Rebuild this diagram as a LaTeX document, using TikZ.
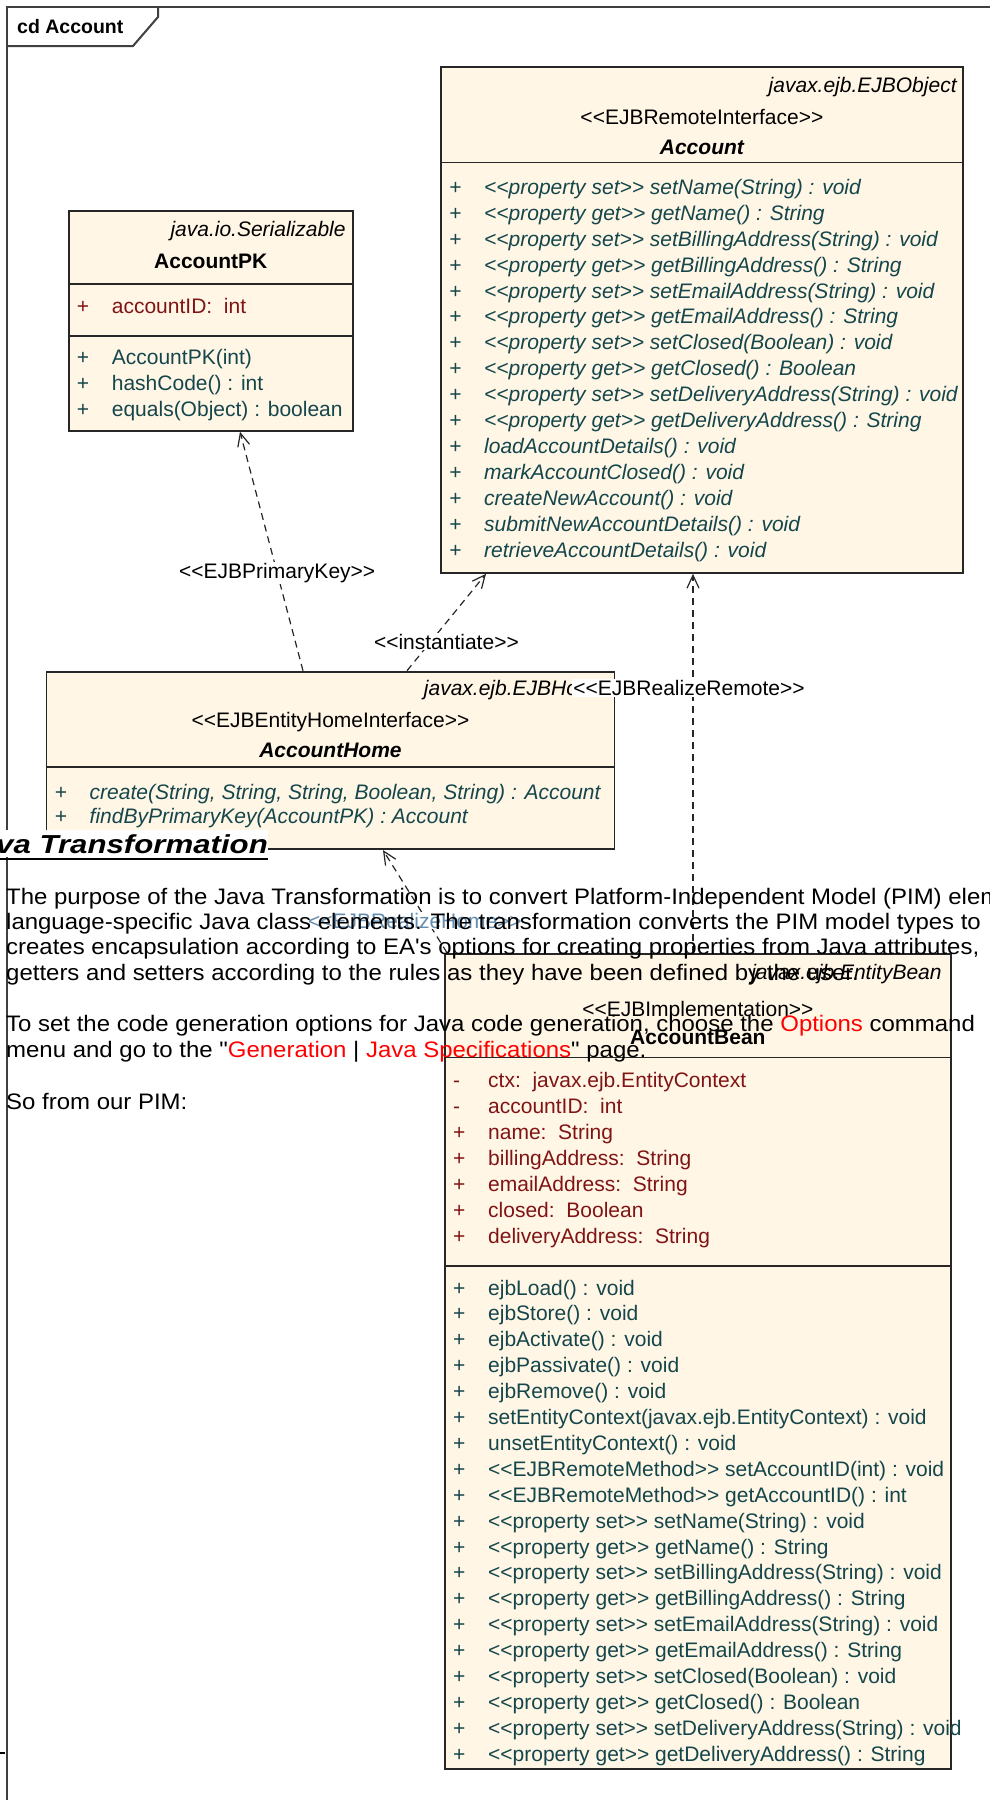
\documentclass[tikz,border=0pt]{standalone}
\usepackage{fontspec}
\setmainfont{Liberation Sans}[Ligatures=TeXOff]
\newfontfamily\htmlfont{Liberation Sans}[FakeStretch=1.07,Ligatures=TeXOff]
\newfontfamily\headfont{Liberation Sans}[FakeStretch=1.2,Ligatures=TeXOff]
\usetikzlibrary{arrows.meta,calc}

\definecolor{boxfill}{RGB}{255,246,230}
\definecolor{opcol}{RGB}{20,70,75}
\definecolor{attrcol}{RGB}{128,20,20}
\definecolor{realizeblue}{RGB}{100,140,175}
\newcommand{\umlsize}{\fontsize{21}{25.9}\selectfont}

\begin{document}
\begin{tikzpicture}[x=1pt, y=-1pt,
    umlbox/.style={rectangle, draw=black!85, line width=1.8pt, fill=boxfill,
      anchor=north west, inner sep=0pt},
    divline/.style={draw=black!85, line width=1.6pt},
    pkgtxt/.style={font=\umlsize\itshape, anchor=base east, inner sep=0pt},
    stereo/.style={font=\umlsize, anchor=base, inner sep=0pt},
    clsname/.style={font=\umlsize\bfseries, anchor=base, inner sep=0pt},
    attrs/.style={font=\umlsize, text=attrcol, anchor=north west, inner sep=0pt},
    ops/.style={font=\umlsize, text=opcol, anchor=north west, inner sep=0pt},
    dep/.style={draw=black!85, line width=1.2pt, dash pattern=on 7pt off 5pt,
      -{Straight Barb[length=13pt, width=12pt]}},
    deplbl/.style={font=\umlsize, fill=white, inner sep=1pt},
    htmltxt/.style={font=\htmlfont\fontsize{22.4}{25.4}\selectfont, anchor=base west, inner sep=0pt},
    framelin/.style={draw=black!75, line width=2pt}
  ]
  \useasboundingbox (0,0) rectangle (990,1800);
  \fill[white] (0,0) rectangle (990,1800);

  % --- diagram frame ---
  \draw[framelin] (1000,7) -- (7,7) -- (7,1810);
  \draw[framelin] (7,46) -- (133,46) -- (158,17) -- (158,7);
  \node[font=\fontsize{19.5}{22}\selectfont\bfseries, anchor=base west, inner sep=0pt] (cdlbl) at (17,33.5) {cd Account};
  \draw[line width=1.2pt] (0,1753) -- (5,1753);

  % --- Account (remote interface) ---
  \node[umlbox, minimum width=522pt, minimum height=506.3pt] (accbox) at (440,65.7) {};
  \node[pkgtxt] (accpkg) at ($(accbox.north east)+(-7,27)$) {javax.ejb.EJBObject};
  \node[stereo] (accst) at ($(accbox.north)+(0,59)$) {<<EJBRemoteInterface>>};
  \node[clsname, font=\umlsize\bfseries\itshape] (accname) at ($(accbox.north)+(0,89)$) {Account};
  \draw[divline] ($(accbox.north west)+(0,96.6)$) -- ($(accbox.north east)+(0,96.6)$);
  \node[ops, font=\umlsize\itshape] (accops) at ($(accbox.north west)+(9,110.4)$) {%
    \begin{tabular}{@{}p{35pt}@{}l@{}}
    + & <<property set>> setName(String) : void\\
    + & <<property get>> getName() : String\\
    + & <<property set>> setBillingAddress(String) : void\\
    + & <<property get>> getBillingAddress() : String\\
    + & <<property set>> setEmailAddress(String) : void\\
    + & <<property get>> getEmailAddress() : String\\
    + & <<property set>> setClosed(Boolean) : void\\
    + & <<property get>> getClosed() : Boolean\\
    + & <<property set>> setDeliveryAddress(String) : void\\
    + & <<property get>> getDeliveryAddress() : String\\
    + & loadAccountDetails() : void\\
    + & markAccountClosed() : void\\
    + & createNewAccount() : void\\
    + & submitNewAccountDetails() : void\\
    + & retrieveAccountDetails() : void
    \end{tabular}};

  % --- AccountPK ---
  \node[umlbox, minimum width=284.3pt, minimum height=220pt] (pkbox) at (67.7,210) {};
  \node[pkgtxt] (pkpkg) at ($(pkbox.north east)+(-8,26.5)$) {java.io.Serializable};
  \node[clsname] (pkname) at ($(pkbox.north)+(0,58.5)$) {AccountPK};
  \draw[divline] ($(pkbox.north west)+(0,74)$) -- ($(pkbox.north east)+(0,74)$);
  \node[attrs] (pkattrs) at ($(pkbox.north west)+(9,85.1)$) {%
    \begin{tabular}{@{}p{35pt}@{}l@{}}
    + & accountID:\ \ int
    \end{tabular}};
  \draw[divline] ($(pkbox.north west)+(0,126)$) -- ($(pkbox.north east)+(0,126)$);
  \node[ops] (pkops) at ($(pkbox.north west)+(9,136.4)$) {%
    \begin{tabular}{@{}p{35pt}@{}l@{}}
    + & AccountPK(int)\\
    + & hashCode() : int\\
    + & equals(Object) : boolean
    \end{tabular}};

  % --- AccountHome ---
  \node[umlbox, minimum width=568.1pt, minimum height=177.6pt] (homebox) at (45.5,670.7) {};
  \node[pkgtxt] (homepkg) at ($(homebox.north east)+(-8,25)$) {javax.ejb.EJBHome};
  \node[stereo] (homest) at ($(homebox.north)+(0,57)$) {<<EJBEntityHomeInterface>>};
  \node[clsname, font=\umlsize\bfseries\itshape] (homename) at ($(homebox.north)+(0,87)$) {AccountHome};
  \draw[divline] ($(homebox.north west)+(0,96)$) -- ($(homebox.north east)+(0,96)$);
  \node[ops, font=\fontsize{21}{24}\selectfont\itshape] (homeops) at ($(homebox.north west)+(9,111.7)$) {%
    \begin{tabular}{@{}p{35pt}@{}l@{}}
    + & create(String, String, String, Boolean, String) : Account\\
    + & findByPrimaryKey(AccountPK) : Account
    \end{tabular}};

  % --- AccountBean ---
  \node[umlbox, minimum width=506pt, minimum height=815.3pt] (beanbox) at (444,952.7) {};
  \node[pkgtxt] (beanpkg) at ($(beanbox.north east)+(-10,26.5)$) {javax.ejb.EntityBean};
  \node[stereo] (beanst) at ($(beanbox.north)+(0,63.8)$) {<<EJBImplementation>>};
  \node[clsname] (beanname) at ($(beanbox.north)+(0,91.5)$) {AccountBean};
  \draw[divline] ($(beanbox.north west)+(0,104.6)$) -- ($(beanbox.north east)+(0,104.6)$);
  \node[attrs] (beanattrs) at ($(beanbox.north west)+(9,116.7)$) {%
    \begin{tabular}{@{}p{35pt}@{}l@{}}
    - & ctx:\ \ javax.ejb.EntityContext\\
    - & accountID:\ \ int\\
    + & name:\ \ String\\
    + & billingAddress:\ \ String\\
    + & emailAddress:\ \ String\\
    + & closed:\ \ Boolean\\
    + & deliveryAddress:\ \ String
    \end{tabular}};
  \draw[divline] ($(beanbox.north west)+(0,313.3)$) -- ($(beanbox.north east)+(0,313.3)$);
  \node[ops] (beanops) at ($(beanbox.north west)+(9,324)$) {%
    \begin{tabular}{@{}p{35pt}@{}l@{}}
    + & ejbLoad() : void\\
    + & ejbStore() : void\\
    + & ejbActivate() : void\\
    + & ejbPassivate() : void\\
    + & ejbRemove() : void\\
    + & setEntityContext(javax.ejb.EntityContext) : void\\
    + & unsetEntityContext() : void\\
    + & <<EJBRemoteMethod>> setAccountID(int) : void\\
    + & <<EJBRemoteMethod>> getAccountID() : int\\
    + & <<property set>> setName(String) : void\\
    + & <<property get>> getName() : String\\
    + & <<property set>> setBillingAddress(String) : void\\
    + & <<property get>> getBillingAddress() : String\\
    + & <<property set>> setEmailAddress(String) : void\\
    + & <<property get>> getEmailAddress() : String\\
    + & <<property set>> setClosed(Boolean) : void\\
    + & <<property get>> getClosed() : Boolean\\
    + & <<property set>> setDeliveryAddress(String) : void\\
    + & <<property get>> getDeliveryAddress() : String
    \end{tabular}};

  % --- dependencies ---
  \draw[dep] ($(homebox.north west)+(257.5,0)$) -- node[deplbl, pos=0.41] (pklbl) {<<EJBPrimaryKey>>} ($(pkbox.south west)+(172.3,0)$);
  \draw[dep] ($(homebox.north west)+(361.5,0)$) -- node[deplbl, pos=0.3, xshift=15.7pt] (instlbl) {<<instantiate>>} ($(accbox.south west)+(46,0)$);
  \draw[dep] ($(beanbox.north west)+(249,0)$) -- node[deplbl, pos=0.699, xshift=-4pt] (remotelbl) {<<EJBRealizeRemote>>} ($(accbox.south west)+(253,0)$);
  \draw[dep] ($(beanbox.north west)+(3,0)$) -- node[deplbl, text=realizeblue, pos=0.313, xshift=-12pt] (homerlbl) {<<EJBRealizeHome>>} ($(homebox.south west)+(337.5,0)$);

  % --- page text laid over the diagram ---
  \node[font=\headfont\fontsize{26}{30}\selectfont\bfseries\itshape, fill=white,
    inner xsep=0pt, inner ysep=4pt, anchor=base west] (hdg) at (-4,853) {va Transformation};
  \draw[line width=2.5pt] ($(hdg.base west)+(0,6)$) -- ($(hdg.base east)+(0,6)$);

  \node[htmltxt] (para1) at (6,904) {The purpose of the Java Transformation is to convert Platform-Independent Model (PIM) elem};
  \node[htmltxt] (para2) at (6,929.4) {language-specific Java class elements. The transformation converts the PIM model types to};
  \node[htmltxt] (para3) at (6,954.8) {creates encapsulation according to EA's options for creating properties from Java attributes,};
  \node[htmltxt] (para4) at (6,980.2) {getters and setters according to the rules as they have been defined by the user.};
  \node[htmltxt] (para5) at (6,1031.9) {To set the code generation options for Java code generation, choose the \textcolor{red}{Options} command};
  \node[htmltxt] (para6) at (6,1057.3) {menu and go to the "\textcolor{red}{Generation} | \textcolor{red}{Java Specifications}" page.};
  \node[htmltxt] (para7) at (6,1109) {So from our PIM:};
\end{tikzpicture}
\end{document}
